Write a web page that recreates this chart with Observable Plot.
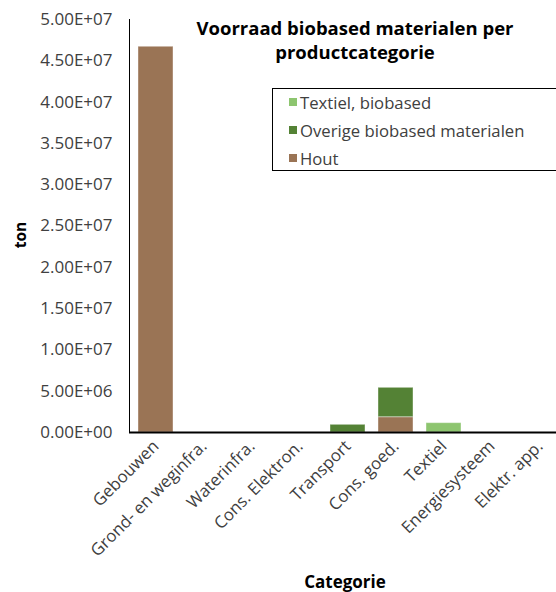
<!DOCTYPE html>
<html>
<head>
<meta charset="utf-8">
<script src="https://cdn.jsdelivr.net/npm/d3@7"></script>
<script src="https://cdn.jsdelivr.net/npm/@observablehq/plot@0.6"></script>
<style>
  html, body { margin: 0; padding: 0; background: #fff; }
  #wrap { position: relative; width: 556px; height: 592px; overflow: hidden; font-family: "Open Sans", sans-serif; }
  #title { position: absolute; left: 150px; width: 410px; top: 16px; text-align: center; font-weight: bold; font-size: 18.5px; line-height: 24px; color: #000; }
  #legend { position: absolute; left: 272px; top: 88px; width: 300px; height: 83px; border: 1.5px solid #000; box-sizing: border-box; background: #fff; }
  .li { position: absolute; left: 16px; font-size: 16.7px; color: #404040; display: flex; align-items: center; height: 22px; white-space: nowrap; }
  .sw { width: 8px; height: 8px; margin-right: 3px; }
  #xlabel { position: absolute; left: 0; width: 690px; top: 570px; text-align: center; font-weight: bold; font-size: 17px; line-height: 23px; color: #000; }
  #ylabel { position: absolute; left: 20px; top: 235px; transform: translate(-50%, -50%) rotate(-90deg); font-weight: bold; font-size: 15.5px; color: #000; }
</style>
</head>
<body>
<div id="wrap">
  <div id="chart"></div>
  <div id="title">Voorraad biobased materialen per<br>productcategorie</div>
  <div id="legend"></div>
  <div id="ylabel">ton</div>
  <div id="xlabel">Categorie</div>
</div>
<script>
const categories = ["Gebouwen", "Grond- en weginfra.", "Waterinfra.", "Cons. Elektron.", "Transport", "Cons. goed.", "Textiel", "Energiesysteem", "Elektr. app."];
const hout = [46.7e6, 0, 0, 0, 0, 1.85e6, 0, 0, 0];
const overige = [0, 0, 0, 0, 0.93e6, 3.56e6, 0, 0, 0];
const textiel = [0, 0, 0, 0, 0, 0, 1.13e6, 0, 0];
const seriesNames = ["Hout", "Overige biobased materialen", "Textiel, biobased"];
const seriesColors = ["#9a7455", "#548235", "#8dc56f"];
const yTicks = [0, 5e6, 10e6, 15e6, 20e6, 25e6, 30e6, 35e6, 40e6, 45e6, 50e6];

const seriesValues = [hout, overige, textiel];
const data = [];
seriesNames.forEach((s, si) => {
  categories.forEach((c, ci) => data.push({category: c, series: s, value: seriesValues[si][ci]}));
});

function sci(d) {
  if (d === 0) return "0.00E+00";
  const e = Math.floor(Math.log10(Math.abs(d)) + 1e-9);
  const m = d / Math.pow(10, e);
  return m.toFixed(2) + "E+" + String(e).padStart(2, "0");
}

const chart = Plot.plot({
  width: 556,
  height: 592,
  marginLeft: 129,
  marginRight: 0,
  marginTop: 19,
  marginBottom: 160,
  style: {fontFamily: "Open Sans, sans-serif", background: "#fff"},
  x: {domain: categories, range: [129, 565], paddingInner: 0.28, paddingOuter: 0.14, label: null},
  y: {domain: [0, 5e7], label: null},
  color: {domain: seriesNames, range: seriesColors},
  marks: [
    Plot.barY(data, Plot.stackY({order: seriesNames}, {x: "category", y: "value", fill: "series", stroke: "#fff", strokeOpacity: 0.4, strokeWidth: 1})),
    Plot.axisY({ticks: yTicks, tickFormat: sci, tickSize: 0, tickPadding: 17, fontSize: 17, fill: "#404040", label: null}),
    Plot.axisX({tickSize: 0, tickPadding: 11, tickRotate: -45, fontSize: 16.8, fill: "#404040", label: null}),
    Plot.frame({anchor: "left", stroke: "#000", strokeWidth: 1}),
    Plot.ruleY([0], {stroke: "#000", strokeWidth: 2})
  ]
});
document.getElementById("chart").appendChild(chart);

const legend = document.getElementById("legend");
const order = [2, 1, 0];
order.forEach((si, i) => {
  const row = document.createElement("div");
  row.className = "li";
  row.style.top = (2 + i * 28) + "px";
  const sw = document.createElement("span");
  sw.className = "sw";
  sw.style.background = seriesColors[si];
  const t = document.createElement("span");
  t.textContent = seriesNames[si];
  row.appendChild(sw);
  row.appendChild(t);
  legend.appendChild(row);
});
</script>
</body>
</html>
